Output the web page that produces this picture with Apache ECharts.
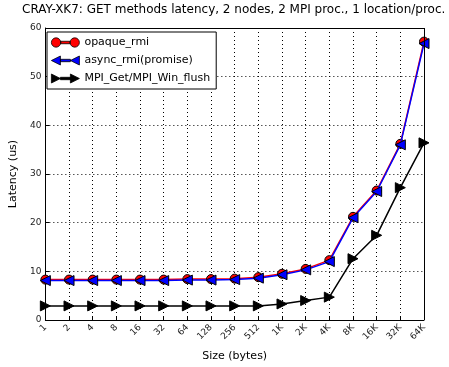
<!DOCTYPE html>
<html><head><meta charset="utf-8">
<script src="https://cdn.jsdelivr.net/npm/echarts@6/dist/echarts.min.js"></script>
<style>html,body{margin:0;padding:0;background:#fff}#c{width:449px;height:367px}</style>
</head><body><div id="c"></div>
<script>
const categories = ['1','2','4','8','16','32','64','128','256','512','1K','2K','4K','8K','16K','32K','64K'];
const opaqueRmi = [8.3,8.3,8.3,8.3,8.3,8.3,8.4,8.4,8.5,8.8,9.5,10.5,12.3,21.2,26.6,36.2,57.2];
const asyncRmi  = [8.1,8.1,8.1,8.1,8.1,8.1,8.2,8.2,8.3,8.6,9.3,10.3,12.0,21.0,26.4,36.0,56.8];
const mpiGet    = [2.9,2.9,2.9,2.9,2.9,2.9,2.9,2.9,2.9,2.9,3.3,4.0,4.7,12.6,17.4,27.2,36.4];
const yTicks = [0,10,20,30,40,50,60];

const chart = echarts.init(document.getElementById('c'));
const font = 'DejaVu Sans';
const iconCircle = 'path://M0.5,5a4.5,4.5 0 1,0 9,0a4.5,4.5 0 1,0 -9,0Z M18.5,5a4.5,4.5 0 1,0 9,0a4.5,4.5 0 1,0 -9,0Z M9.5,3.8H18.5V6.2H9.5Z';
const iconLeft = 'path://M0,5L9,0.5L9,9.5Z M19,5L28,0.5L28,9.5Z M9,3.8H19V6.2H9Z';
const iconRight = 'path://M0,0.5L9,5L0,9.5Z M19,0.5L28,5L19,9.5Z M9,3.8H19V6.2H9Z';
chart.setOption({
  animation: false,
  title: { text: 'CRAY-XK7: GET methods latency, 2 nodes, 2 MPI proc., 1 location/proc.', left: 22, top: 4, padding: 0,
    textStyle: { fontFamily: font, fontSize: 12, fontWeight: 'normal', color: '#000' } },
  grid: { left: 41, right: 25, top: 28, bottom: 44 },
  legend: {
    left: 47, top: 32, orient: 'vertical', itemWidth: 28, itemHeight: 10, itemGap: 7,
    padding: [5, 6, 5, 4], borderColor: '#000', borderWidth: 1, backgroundColor: '#fff',
    textStyle: { fontFamily: font, fontSize: 11, color: '#000' },
    itemStyle: { borderWidth: 0.8 },
    data: [
      { name: 'opaque_rmi', icon: iconCircle },
      { name: 'async_rmi(promise)', icon: iconLeft },
      { name: 'MPI_Get/MPI_Win_flush', icon: iconRight }
    ]
  },
  xAxis: {
    type: 'category', data: categories, boundaryGap: false,
    name: 'Size (bytes)', nameLocation: 'middle', nameGap: 31,
    nameTextStyle: { fontFamily: font, fontSize: 11, color: '#000' },
    axisLine: { lineStyle: { color: '#000', width: 1 } },
    axisTick: { inside: true, length: 4, lineStyle: { color: '#000' } },
    axisLabel: { rotate: 45, fontFamily: font, fontSize: 9, color: '#222', margin: 6, interval: 0 },
    splitLine: { show: true, lineStyle: { color: '#000', type: [1, 3], width: 1 } }
  },
  yAxis: [{
    type: 'value', min: 0, max: 60, interval: 10,
    name: 'Latency (us)', nameLocation: 'middle', nameGap: 26,
    nameTextStyle: { fontFamily: font, fontSize: 11, color: '#000' },
    axisLine: { show: true, lineStyle: { color: '#000', width: 1 } },
    axisTick: { show: true, inside: true, length: 4, lineStyle: { color: '#000' } },
    axisLabel: { fontFamily: font, fontSize: 9, color: '#222', margin: 4,
      formatter: v => yTicks.includes(v) ? String(v) : '' },
    splitLine: { show: true, lineStyle: { color: '#000', type: [1, 3], width: 1 } }
  }],
  series: [
    { name: 'opaque_rmi', type: 'line', data: opaqueRmi, symbol: 'circle', symbolSize: 9,
      lineStyle: { color: '#ff0000', width: 1.5 },
      itemStyle: { color: '#ff0000', borderColor: '#000', borderWidth: 1 }, z: 3 },
    { name: 'async_rmi(promise)', type: 'line', data: asyncRmi, symbol: 'triangle', symbolRotate: 90, symbolSize: 10,
      lineStyle: { color: '#0000ff', width: 1.5 },
      itemStyle: { color: '#0000ff', borderColor: '#000', borderWidth: 1 }, z: 4 },
    { name: 'MPI_Get/MPI_Win_flush', type: 'line', data: mpiGet, symbol: 'triangle', symbolRotate: -90, symbolSize: 10,
      lineStyle: { color: '#000', width: 1.5 },
      itemStyle: { color: '#000', borderColor: '#000', borderWidth: 1 }, z: 5 },
    { type: 'line', data: [], markLine: { silent: true, symbol: 'none', label: { show: false },
      lineStyle: { color: '#000', type: 'solid', width: 1 },
      data: [ [{ coord: ['1', 60] }, { coord: ['64K', 60] }], [{ coord: ['64K', 0] }, { coord: ['64K', 60] }] ] } }
  ]
});
</script></body></html>
